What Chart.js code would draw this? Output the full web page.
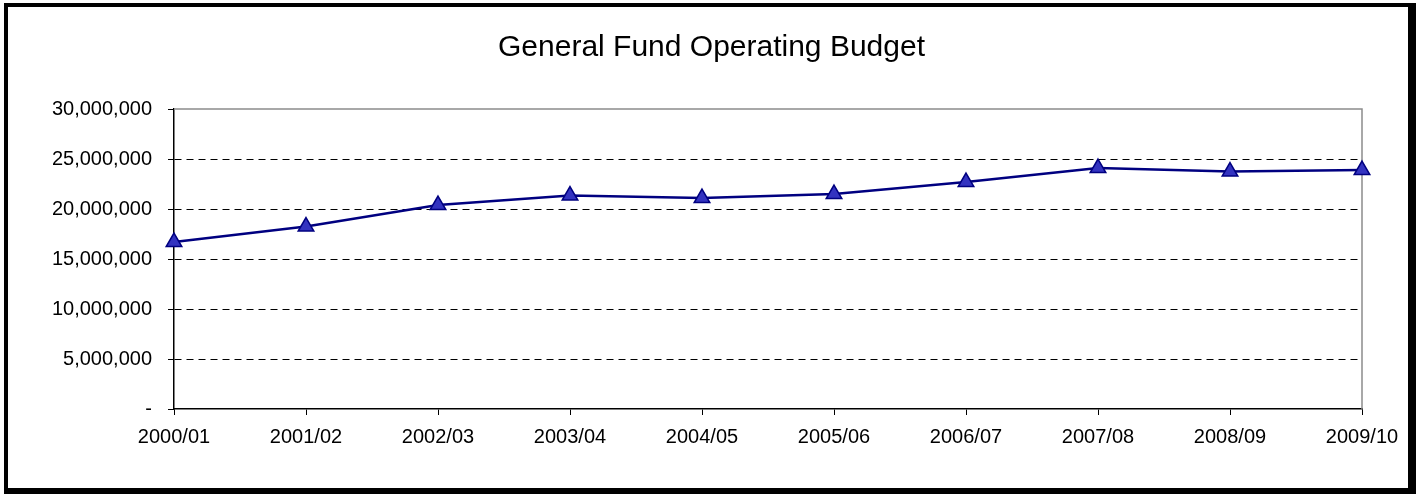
<!DOCTYPE html>
<html>
<head>
<meta charset="utf-8">
<script src="https://cdn.jsdelivr.net/npm/chart.js@4.4.0/dist/chart.umd.min.js"></script>
<style>
  html, body { margin: 0; padding: 0; background: #fff; }
  #wrap { position: relative; width: 1423px; height: 496px; }
  #frame {
    position: absolute; left: 4px; top: 3px; width: 1400px; height: 481px;
    border-style: solid; border-color: #000;
    border-width: 4px 8px 6px 4px;
    pointer-events: none;
  }
</style>
</head>
<body>
<div id="wrap">
  <canvas id="chart" width="1423" height="496"></canvas>
  <div id="frame"></div>
</div>
<script>
const years = ['2000/01', '2001/02', '2002/03', '2003/04', '2004/05',
               '2005/06', '2006/07', '2007/08', '2008/09', '2009/10'];
const budget = [16700000, 18250000, 20400000, 21350000, 21100000,
                21500000, 22700000, 24100000, 23750000, 23900000];
const yTicks = [0, 5000000, 10000000, 15000000, 20000000, 25000000, 30000000];

const axisFont = { family: 'Arial, "Liberation Sans", sans-serif', size: 20 };

// gray plot-area edges on top and right
const plotFrame = {
  id: 'plotFrame',
  beforeDatasetsDraw(chart) {
    const { ctx, chartArea: a } = chart;
    ctx.save();
    ctx.strokeStyle = '#8c8c8c';
    ctx.lineWidth = 1.5;
    ctx.beginPath();
    ctx.moveTo(a.left, a.top);
    ctx.lineTo(a.right, a.top);
    ctx.lineTo(a.right, a.bottom);
    ctx.stroke();
    ctx.restore();
  }
};

const chart = new Chart(document.getElementById('chart').getContext('2d'), {
  type: 'line',
  data: {
    labels: years,
    datasets: [{
      label: 'General Fund',
      data: budget,
      borderColor: '#000080',
      borderWidth: 2.5,
      pointStyle: 'triangle',
      pointRadius: 9,
      pointBackgroundColor: '#3333c0',
      pointBorderColor: '#000080',
      pointBorderWidth: 1.5,
      tension: 0,
      clip: false
    }]
  },
  options: {
    responsive: false,
    animation: false,
    devicePixelRatio: 1,
    layout: { padding: 0 },
    plugins: {
      legend: { display: false },
      tooltip: { enabled: false },
      title: {
        display: true,
        text: 'General Fund Operating Budget',
        color: '#000',
        font: { family: 'Arial, "Liberation Sans", sans-serif', size: 30, weight: 'normal' },
        padding: { top: 30, bottom: 43 }
      }
    },
    scales: {
      x: {
        type: 'category',
        offset: false,
        grid: { drawOnChartArea: false, drawTicks: true, tickLength: 6, tickColor: '#000' },
        border: { display: true, color: '#000', width: 1.5 },
        ticks: { color: '#000', font: axisFont, padding: 10, maxRotation: 0, autoSkip: false },
        afterFit(scale) { scale.height = 87; }
      },
      y: {
        min: 0,
        max: 30000000,
        afterBuildTicks(scale) { scale.ticks = yTicks.map(v => ({ value: v })); },
        grid: {
          color: ctx => (ctx.tick && ctx.tick.value > 0 && ctx.tick.value < 30000000) ? '#000' : 'rgba(0,0,0,0)',
          lineWidth: 1,
          tickLength: 6,
          tickColor: '#000'
        },
        border: { display: true, color: '#000', width: 1.5, dash: [7, 5] },
        ticks: {
          color: '#000',
          font: axisFont,
          padding: 16,
          callback: v => v === 0 ? '-' : v.toLocaleString('en-US')
        },
        afterFit(scale) { scale.width = 174; }
      },
      // empty right-hand axis, only reserves the margin right of the plot
      yRight: {
        position: 'right',
        min: 0,
        max: 1,
        grid: { display: false },
        border: { display: false },
        ticks: { display: false },
        afterFit(scale) { scale.width = 61; }
      }
    }
  },
  plugins: [plotFrame]
});
</script>
</body>
</html>
